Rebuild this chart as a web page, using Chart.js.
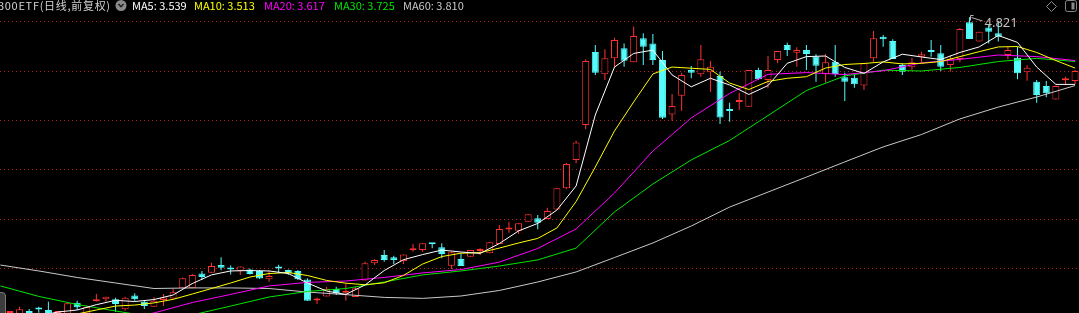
<!DOCTYPE html>
<html lang="zh-CN">
<head>
  <meta charset="UTF-8">
  <title>300ETF 日线</title>
  <script src="https://cdn.jsdelivr.net/npm/chart.js"></script>
  <style>
    html, body { margin: 0; padding: 0; background: #000; }
    body { width: 1079px; height: 313px; overflow: hidden; position: relative;
           font-family: "Noto Sans CJK SC", "Noto Sans", sans-serif; }
    #wrap { position: absolute; left: 0; top: 0; width: 1079px; height: 313px; }
    .hdr { position: absolute; top: 0; font-size: 11px; line-height: 11px; white-space: nowrap; }
    .icon { position: absolute; }
    #sidebtn { position: absolute; left: -6px; top: 292px; width: 10px; height: 30px;
               background: #3c3c3c; border: 1px solid #777; border-radius: 4px; }
  </style>
</head>
<body>

<div id="wrap"><canvas id="kline"></canvas></div>

<!-- header -->
<div class="hdr" style="left:-2px; color:#d2d2d2; letter-spacing:0.7px;">300ETF(日线,前复权)</div>
<svg class="icon" style="left:115px; top:0;" width="12" height="11">
  <circle cx="6" cy="5.5" r="5.5" fill="#8a8a8a"/>
  <polyline points="3.5,4 6,6.8 8.5,4" fill="none" stroke="#1a1a1a" stroke-width="1.4"/>
</svg>
<div id="maHeader"></div>

<!-- top right buttons -->
<svg class="icon" style="left:1046px; top:1px;" width="11" height="11">
  <polygon points="5.5,0.5 10.5,5.5 5.5,10.5 0.5,5.5" fill="none" stroke="#8a8a8a" stroke-width="1"/>
</svg>
<svg class="icon" style="left:1065px; top:0;" width="13" height="12">
  <rect x="0.5" y="0.5" width="11" height="11" rx="2" fill="none" stroke="#8a8a8a"/>
  <rect x="6.5" y="2.5" width="3" height="7" fill="#8a8a8a"/>
</svg>
<div id="sidebtn"></div>

<script>
// ---- candles, one per trading day (index 0 = leftmost) ----
const opens = [
  3.300, 3.290, 3.306, 3.318, 3.340, 3.336, 3.290, 3.295, 3.373, 3.318,
  3.380, 3.390, 3.390, 3.340, 3.409, 3.378, 3.353, 3.387, 3.394, 3.446,
  3.446, 3.521, 3.525, 3.564, 3.544, 3.535, 3.542, 3.534, 3.492, 3.549,
  3.539, 3.534, 3.491, 3.384, 3.404, 3.442, 3.424, 3.402, 3.486, 3.573,
  3.615, 3.603, 3.585, 3.639, 3.640, 3.672, 3.654, 3.561, 3.595, 3.606,
  3.635, 3.624, 3.671, 3.744, 3.738, 3.784, 3.801, 3.797, 3.846, 3.953,
  4.097, 4.274, 4.644, 4.531, 4.612, 4.663, 4.592, 4.714, 4.688, 4.604,
  4.328, 4.423, 4.553, 4.531, 4.541, 4.523, 4.348, 4.391, 4.367, 4.553,
  4.502, 4.604, 4.680, 4.641, 4.654, 4.620, 4.533, 4.595, 4.516, 4.514,
  4.475, 4.612, 4.722, 4.700, 4.578, 4.567, 4.620, 4.647, 4.638, 4.578,
  4.609, 4.795, 4.697, 4.768, 4.739, 4.629, 4.615, 4.541, 4.494, 4.472,
  4.404, 4.501, 4.497
];
const highs = [
  3.310, 3.310, 3.353, 3.341, 3.353, 3.378, 3.310, 3.372, 3.383, 3.359,
  3.417, 3.403, 3.398, 3.403, 3.421, 3.383, 3.402, 3.417, 3.442, 3.501,
  3.519, 3.534, 3.576, 3.603, 3.562, 3.557, 3.546, 3.539, 3.534, 3.566,
  3.542, 3.539, 3.497, 3.400, 3.454, 3.454, 3.470, 3.455, 3.581, 3.595,
  3.640, 3.611, 3.618, 3.671, 3.674, 3.672, 3.674, 3.630, 3.620, 3.640,
  3.649, 3.681, 3.767, 3.784, 3.776, 3.821, 3.818, 3.855, 3.953, 4.083,
  4.194, 4.607, 4.680, 4.658, 4.717, 4.688, 4.773, 4.739, 4.736, 4.649,
  4.431, 4.539, 4.573, 4.680, 4.599, 4.544, 4.387, 4.438, 4.553, 4.565,
  4.624, 4.649, 4.691, 4.668, 4.680, 4.633, 4.634, 4.680, 4.539, 4.528,
  4.589, 4.751, 4.731, 4.709, 4.589, 4.615, 4.646, 4.705, 4.680, 4.626,
  4.766, 4.821, 4.747, 4.781, 4.802, 4.671, 4.671, 4.578, 4.502, 4.497,
  4.474, 4.519, 4.553
];
const lows = [
  3.280, 3.280, 3.295, 3.295, 3.322, 3.285, 3.280, 3.295, 3.336, 3.316,
  3.379, 3.378, 3.327, 3.332, 3.383, 3.341, 3.353, 3.356, 3.394, 3.446,
  3.446, 3.488, 3.525, 3.537, 3.516, 3.513, 3.516, 3.493, 3.479, 3.526,
  3.513, 3.488, 3.383, 3.366, 3.404, 3.412, 3.384, 3.402, 3.486, 3.564,
  3.581, 3.569, 3.569, 3.632, 3.632, 3.649, 3.598, 3.544, 3.559, 3.606,
  3.615, 3.624, 3.671, 3.728, 3.721, 3.784, 3.745, 3.797, 3.846, 3.950,
  4.080, 4.252, 4.528, 4.502, 4.567, 4.570, 4.592, 4.578, 4.578, 4.305,
  4.296, 4.347, 4.511, 4.519, 4.443, 4.279, 4.291, 4.350, 4.367, 4.502,
  4.460, 4.587, 4.624, 4.570, 4.553, 4.494, 4.489, 4.519, 4.396, 4.463,
  4.452, 4.595, 4.671, 4.609, 4.528, 4.553, 4.587, 4.620, 4.548, 4.544,
  4.592, 4.710, 4.697, 4.688, 4.697, 4.607, 4.506, 4.499, 4.387, 4.415,
  4.404, 4.482, 4.482
];
const closes = [
  3.290, 3.300, 3.340, 3.316, 3.338, 3.295, 3.300, 3.370, 3.350, 3.351,
  3.384, 3.403, 3.366, 3.398, 3.390, 3.356, 3.383, 3.400, 3.426, 3.497,
  3.513, 3.503, 3.559, 3.550, 3.541, 3.557, 3.519, 3.496, 3.508, 3.546,
  3.521, 3.492, 3.383, 3.388, 3.442, 3.421, 3.427, 3.446, 3.573, 3.590,
  3.590, 3.590, 3.618, 3.642, 3.674, 3.669, 3.620, 3.629, 3.559, 3.640,
  3.645, 3.679, 3.747, 3.749, 3.776, 3.821, 3.779, 3.838, 3.953, 4.076,
  4.186, 4.599, 4.539, 4.612, 4.705, 4.600, 4.725, 4.671, 4.604, 4.311,
  4.370, 4.528, 4.539, 4.607, 4.570, 4.312, 4.345, 4.394, 4.553, 4.506,
  4.553, 4.649, 4.654, 4.654, 4.634, 4.575, 4.592, 4.533, 4.494, 4.481,
  4.587, 4.714, 4.709, 4.609, 4.544, 4.592, 4.633, 4.644, 4.570, 4.609,
  4.761, 4.710, 4.747, 4.747, 4.722, 4.654, 4.536, 4.565, 4.426, 4.435,
  4.472, 4.504, 4.548
];

// ---- moving averages, every 2nd / 4th day ----
const ma5Step = 2;
const ma5 = [
  3.275, 3.295, 3.306, 3.326, 3.336, 3.363, 3.385, 3.379, 3.389, 3.412,
  3.470, 3.514, 3.534, 3.536, 3.534, 3.521, 3.473, 3.432, 3.415, 3.463,
  3.536, 3.591, 3.617, 3.640, 3.630, 3.623, 3.673, 3.737, 3.775, 3.843,
  3.965, 4.325, 4.568, 4.637, 4.654, 4.528, 4.468, 4.511, 4.477, 4.429,
  4.474, 4.587, 4.621, 4.624, 4.566, 4.536, 4.594, 4.633, 4.619, 4.606,
  4.642, 4.670, 4.728, 4.693, 4.568, 4.480, 4.480
];
const ma10Step = 2;
const ma10 = [
  3.235, 3.260, 3.285, 3.306, 3.316, 3.336, 3.356, 3.361, 3.372, 3.390,
  3.417, 3.445, 3.473, 3.503, 3.521, 3.526, 3.511, 3.486, 3.472, 3.464,
  3.474, 3.511, 3.569, 3.607, 3.624, 3.627, 3.650, 3.676, 3.699, 3.752,
  3.886, 4.061, 4.244, 4.391, 4.533, 4.568, 4.562, 4.556, 4.487, 4.454,
  4.495, 4.511, 4.519, 4.563, 4.581, 4.586, 4.594, 4.584, 4.587, 4.596,
  4.621, 4.646, 4.670, 4.672, 4.642, 4.601, 4.563
];
const ma20Step = 4;
const ma20 = [
  3.209, 3.235, 3.260, 3.285, 3.321, 3.374, 3.415, 3.458, 3.476, 3.483,
  3.501, 3.524, 3.541, 3.579, 3.648, 3.747, 3.929, 4.142, 4.310, 4.434,
  4.531, 4.540, 4.530, 4.549, 4.589, 4.607, 4.629, 4.621, 4.601
];
const ma30Step = 4;
const ma30 = [
  3.458, 3.405, 3.364, 3.331, 3.300, 3.311, 3.356, 3.402, 3.430, 3.445,
  3.478, 3.514, 3.534, 3.559, 3.590, 3.650, 3.833, 3.975, 4.097, 4.196,
  4.322, 4.449, 4.523, 4.552, 4.548, 4.566, 4.596, 4.612, 4.596
];
const ma60Step = 4;
const ma60 = [
  3.564, 3.534, 3.501, 3.473, 3.445, 3.448, 3.448, 3.445, 3.427, 3.414,
  3.400, 3.395, 3.407, 3.435, 3.478, 3.529, 3.602, 3.676, 3.762, 3.858,
  3.934, 4.010, 4.087, 4.163, 4.226, 4.305, 4.365, 4.416, 4.474
];

// header readout
const maNames = ['MA5', 'MA10', 'MA20', 'MA30', 'MA60'];
const maValues = [3.539, 3.513, 3.617, 3.725, 3.810];

// dotted price lines
const gridPrices = [4.80, 4.55, 4.30, 4.05, 3.80, 3.55];

const RED = '#ff3232';
const CYAN = '#54fcfc';
const maColors = ['#ffffff', '#ffff00', '#ff00ff', '#00e600', '#c8c8c8'];
const maLeft = [132, 194, 264, 334, 403];

// header labels
const hdr = document.getElementById('maHeader');
maNames.forEach((name, i) => {
  const d = document.createElement('div');
  d.className = 'hdr';
  d.style.left = maLeft[i] + 'px';
  d.style.color = maColors[i];
  d.textContent = name + ': ' + maValues[i].toFixed(3);
  hdr.appendChild(d);
});

const up = opens.map((o, i) => closes[i] >= o);
const bodyData = opens.map((o, i) => ({ x: i, y: [o, closes[i]] }));
const wickData = highs.map((h, i) => ({ x: i, y: [lows[i], h] }));

function maPoints(vals, step) {
  return vals.map((v, i) => ({ x: i * step, y: v }));
}

function maLine(vals, step, color) {
  return {
    type: 'line',
    data: maPoints(vals, step),
    borderColor: color,
    borderWidth: 1,
    pointRadius: 0,
    tension: 0,
    fill: false,
    order: 0
  };
}

// price-line grid and the high marker
const overlay = {
  id: 'overlay',
  beforeDatasetsDraw(chart) {
    const { ctx, chartArea, scales: { y } } = chart;
    ctx.save();
    ctx.strokeStyle = '#b41e1e';
    ctx.lineWidth = 1;
    ctx.setLineDash([1, 3]);
    gridPrices.forEach(p => {
      const py = Math.round(y.getPixelForValue(p)) + 0.5;
      ctx.beginPath();
      ctx.moveTo(chartArea.left, py);
      ctx.lineTo(chartArea.right, py);
      ctx.stroke();
    });
    ctx.restore();
  },
  afterDatasetsDraw(chart) {
    const { ctx, scales: { x, y } } = chart;
    const top = Math.max(...highs);
    const i = highs.indexOf(top);
    const px = Math.round(x.getPixelForValue(i)) + 0.5;
    const py = Math.round(y.getPixelForValue(top)) + 0.5;
    ctx.save();
    ctx.strokeStyle = '#b4b4b4';
    ctx.lineWidth = 1;
    ctx.beginPath();
    ctx.moveTo(px, py - 2); ctx.lineTo(px, py + 3);
    ctx.moveTo(px, py - 2); ctx.lineTo(px + 3, py - 2);
    ctx.moveTo(px + 1, py); ctx.lineTo(px + 12, py + 3.5);
    ctx.stroke();
    ctx.fillStyle = '#c0c0c0';
    ctx.font = '13px "Liberation Sans Narrow", "Noto Sans", sans-serif';
    ctx.textBaseline = 'alphabetic';
    ctx.fillText(top.toFixed(3), px + 14, py + 9.5);
    ctx.restore();
  }
};

new Chart(document.getElementById('kline'), {
  type: 'bar',
  data: {
    datasets: [
      maLine(ma5, ma5Step, maColors[0]),
      maLine(ma10, ma10Step, maColors[1]),
      maLine(ma20, ma20Step, maColors[2]),
      maLine(ma30, ma30Step, maColors[3]),
      maLine(ma60, ma60Step, maColors[4]),
      {
        data: bodyData,
        order: 1,
        grouped: false,
        barThickness: 7,
        minBarLength: 2,
        borderWidth: 1,
        borderSkipped: false,
        inflateAmount: 0,
        borderColor: up.map(u => u ? RED : CYAN),
        backgroundColor: up.map(u => u ? '#000000' : CYAN)
      },
      {
        data: wickData,
        order: 2,
        grouped: false,
        barThickness: 1,
        borderWidth: 0,
        inflateAmount: 0,
        backgroundColor: up.map(u => u ? RED : CYAN)
      }
    ]
  },
  options: {
    responsive: true,
    maintainAspectRatio: false,
    animation: false,
    events: [],
    layout: { padding: 0 },
    plugins: { legend: { display: false }, tooltip: { enabled: false } },
    scales: {
      x: { type: 'linear', display: false, offset: false, min: -0.042, max: 112.41 },
      y: { display: false, min: 3.3208, max: 4.908 }
    }
  },
  plugins: [overlay]
});
</script>
</body>
</html>
